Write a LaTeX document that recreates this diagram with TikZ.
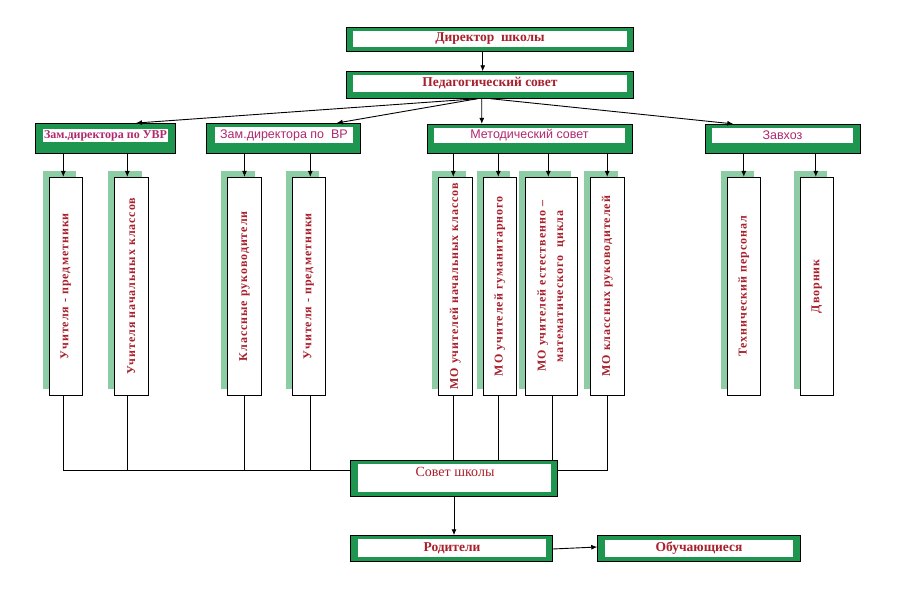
\documentclass[tikz,border=0pt]{standalone}
\usepackage{fontspec}
\setmainfont{Liberation Serif}
\setsansfont{Liberation Sans}
\newfontfamily\vsfont[LetterSpace=8]{Liberation Serif}
\usetikzlibrary{arrows.meta,shadows,calc}
\definecolor{boxgreen}{RGB}{30,150,80}
\definecolor{shgreen}{RGB}{140,205,165}
\definecolor{txtred}{RGB}{168,32,44}
\definecolor{txtmag}{RGB}{176,40,110}
\begin{document}
\begin{tikzpicture}[x=1pt,y=-1pt,
 gbox/.style={draw=black, line width=0.8pt, fill=boxgreen, inner sep=0pt},
 wlab/.style={fill=white, inner sep=0pt, text=txtred, font=\bfseries\fontsize{13.5}{15}\selectfont},
 slab/.style={wlab, text=txtmag, font=\sffamily\fontsize{12.5}{14}\selectfont},
 mlab/.style={wlab, text=txtmag, font=\bfseries\fontsize{12}{14}\selectfont},
 vbox/.style={draw=black, line width=0.9pt, fill=white, minimum height=217.7pt, inner sep=0pt,
   drop shadow={shadow xshift=-6.5pt, shadow yshift=6pt, fill=shgreen, opacity=1}},
 vtext/.style={rotate=90, text=txtred, font=\vsfont\bfseries\fontsize{12}{17.5}\selectfont, align=center, inner sep=0pt},
 arr/.style={-{Latex[length=6pt,width=5pt]}, line width=0.9pt},
 ln/.style={line width=0.9pt}]
\fill[white] (0,0) rectangle (921,604);
\useasboundingbox (0,0) rectangle (921,604);

% top boxes
\node[gbox, minimum width=287pt, minimum height=24.4pt] (dir) at (489.5,39.5) {};
\node[wlab, minimum width=274pt, minimum height=16pt] (dirl) at (490,39) {Директор \ школы};
\node[gbox, minimum width=287pt, minimum height=26.6pt] (ped) at (489.5,85) {};
\node[wlab, minimum width=274pt, minimum height=16.7pt] (pedl) at (490,83.4) {Педагогический совет};

% second row
\node[gbox, minimum width=140.7pt, minimum height=29.5pt] (zuvr) at (105.3,138.2) {};
\node[mlab, minimum width=125pt, minimum height=13pt] (zuvrl) at (105.5,135.5) {Зам.директора по УВР};
\node[gbox, minimum width=154pt, minimum height=29.5pt] (zvr) at (283,138.2) {};
\node[slab, minimum width=138pt, minimum height=16pt] (zvrl) at (284,135) {Зам.директора по \ ВР};
\node[gbox, minimum width=205pt, minimum height=29pt] (met) at (529.8,138.8) {};
\node[slab, minimum width=191pt, minimum height=15pt] (metl) at (529.5,135.5) {Методический совет};
\node[gbox, minimum width=154.3pt, minimum height=29pt] (zav) at (782.8,138.8) {};
\node[slab, minimum width=141pt, minimum height=15pt] (zavl) at (782.5,135.5) {Завхоз};

% vertical boxes
\node[vbox, minimum width=33pt] (v1) at (65.8,286.2) {};
\node[vbox, minimum width=34pt] (v2) at (131.3,286.2) {};
\node[vbox, minimum width=34.4pt] (v3) at (244.5,286.2) {};
\node[vbox, minimum width=33pt] (v4) at (308.8,286.2) {};
\node[vbox, minimum width=34pt] (v5) at (455.3,286.2) {};
\node[vbox, minimum width=33pt] (v6) at (499.8,286.2) {};
\node[vbox, minimum width=52pt] (v7) at (551.3,286.2) {};
\node[vbox, minimum width=33.7pt] (v8) at (607.2,286.2) {};
\node[vbox, minimum width=33pt] (v9) at (743.8,286.2) {};
\node[vbox, minimum width=33pt] (v10) at (816.8,286.2) {};

\node[vtext] (t1) at (v1) {Учителя - предметники};
\node[vtext] (t2) at (v2) {Учителя начальных классов};
\node[vtext] (t3) at (v3) {Классные руководители};
\node[vtext] (t4) at (v4) {Учителя - предметники};
\node[vtext] (t5) at (v5) {МО учителей начальных классов};
\node[vtext] (t6) at (v6) {МО учителей гуманитарного};
\node[vtext] (t7) at (v7) {МО учителей естественно –\\математического \ цикла};
\node[vtext] (t8) at (v8) {МО классных руководителей};
\node[vtext] (t9) at (v9) {Технический персонал};
\node[vtext] (t10) at (v10) {Дворник};

% bottom boxes
\node[gbox, minimum width=206.6pt, minimum height=35.3pt] (sov) at (454,478.3) {};
\node[wlab, minimum width=192.4pt, minimum height=27.7pt] (sovl) at (454.5,477.8) {};
\node[text=txtred, font=\fontsize{14}{15}\selectfont, inner sep=0pt] (sovt) at (455,472) {Совет школы};
\node[gbox, minimum width=201.6pt, minimum height=25.3pt] (rod) at (451.5,548.3) {};
\node[wlab, minimum width=188pt, minimum height=18pt] (rodl) at (452,548.3) {Родители};
\node[gbox, minimum width=202.3pt, minimum height=25.3pt] (obu) at (698.8,548.3) {};
\node[wlab, minimum width=188pt, minimum height=16.7pt] (obul) at (699,548.3) {Обучающиеся};

% connectors top
\draw[arr] ([xshift=-6.8pt]dir.south) -- ([xshift=-6.8pt]ped.north);
\draw[arr] ([xshift=-12pt]ped.south) -- ([xshift=30.7pt]zuvr.north);
\draw[arr] ([xshift=-12pt]ped.south) -- ([xshift=53.7pt]zvr.north);
\draw[arr] ([xshift=-7.8pt]ped.south) -- ([xshift=-48pt]met.north);
\draw[arr] ([xshift=1pt]ped.south) -- ([xshift=-49.5pt]zav.north);

\draw[arr] ([xshift=-2.5pt]v1.north |- zuvr.south) -- ([xshift=-2.5pt]v1.north);
\draw[arr] ([xshift=-4pt]v2.north |- zuvr.south) -- ([xshift=-4pt]v2.north);
\draw[arr] (v3.north |- zvr.south) -- (v3.north);
\draw[arr] ([xshift=1.5pt]v4.north |- zvr.south) -- ([xshift=1.5pt]v4.north);
\draw[arr] ([xshift=-2pt]v5.north |- met.south) -- ([xshift=-2pt]v5.north);
\draw[arr] ([xshift=-1.5pt]v6.north |- met.south) -- ([xshift=-1.5pt]v6.north);
\draw[arr] ([xshift=-3pt]v7.north |- met.south) -- ([xshift=-3pt]v7.north);
\draw[arr] (v8.north |- met.south) -- (v8.north);
\draw[arr] (v9.north |- zav.south) -- (v9.north);
\draw[arr] ([xshift=-1pt]v10.north |- zav.south) -- ([xshift=-1pt]v10.north);

% connectors bottom
\coordinate (hl) at ($(v1.south)+(-2.5,75)$);
\draw[ln] ([xshift=-2.5pt]v1.south) -- (hl) -- (hl -| sov.west);
\draw[ln] ([xshift=-4pt]v2.south) -- ([xshift=-4pt]v2.south |- hl);
\draw[ln] (v3.south) -- (v3.south |- hl);
\draw[ln] ([xshift=1.5pt]v4.south) -- ([xshift=1.5pt]v4.south |- hl);
\draw[ln] ([xshift=-1.6pt]v5.south) -- ([xshift=-1.6pt]v5.south |- sov.north);
\draw[ln] ([xshift=-1.5pt]v6.south) -- ([xshift=-1.5pt]v6.south |- sov.north);
\draw[ln] ([xshift=1pt]v7.south) -- ([xshift=1pt]v7.south |- sov.north);
\draw[ln] (v8.south) -- (v8.south |- hl) -- (hl -| sov.east);

\draw[arr] (sov.south) -- (sov.south |- rod.north);
\draw[arr] ([yshift=-0.7pt]rod.east) -- ([yshift=1.3pt]obu.west);
\end{tikzpicture}
\end{document}
